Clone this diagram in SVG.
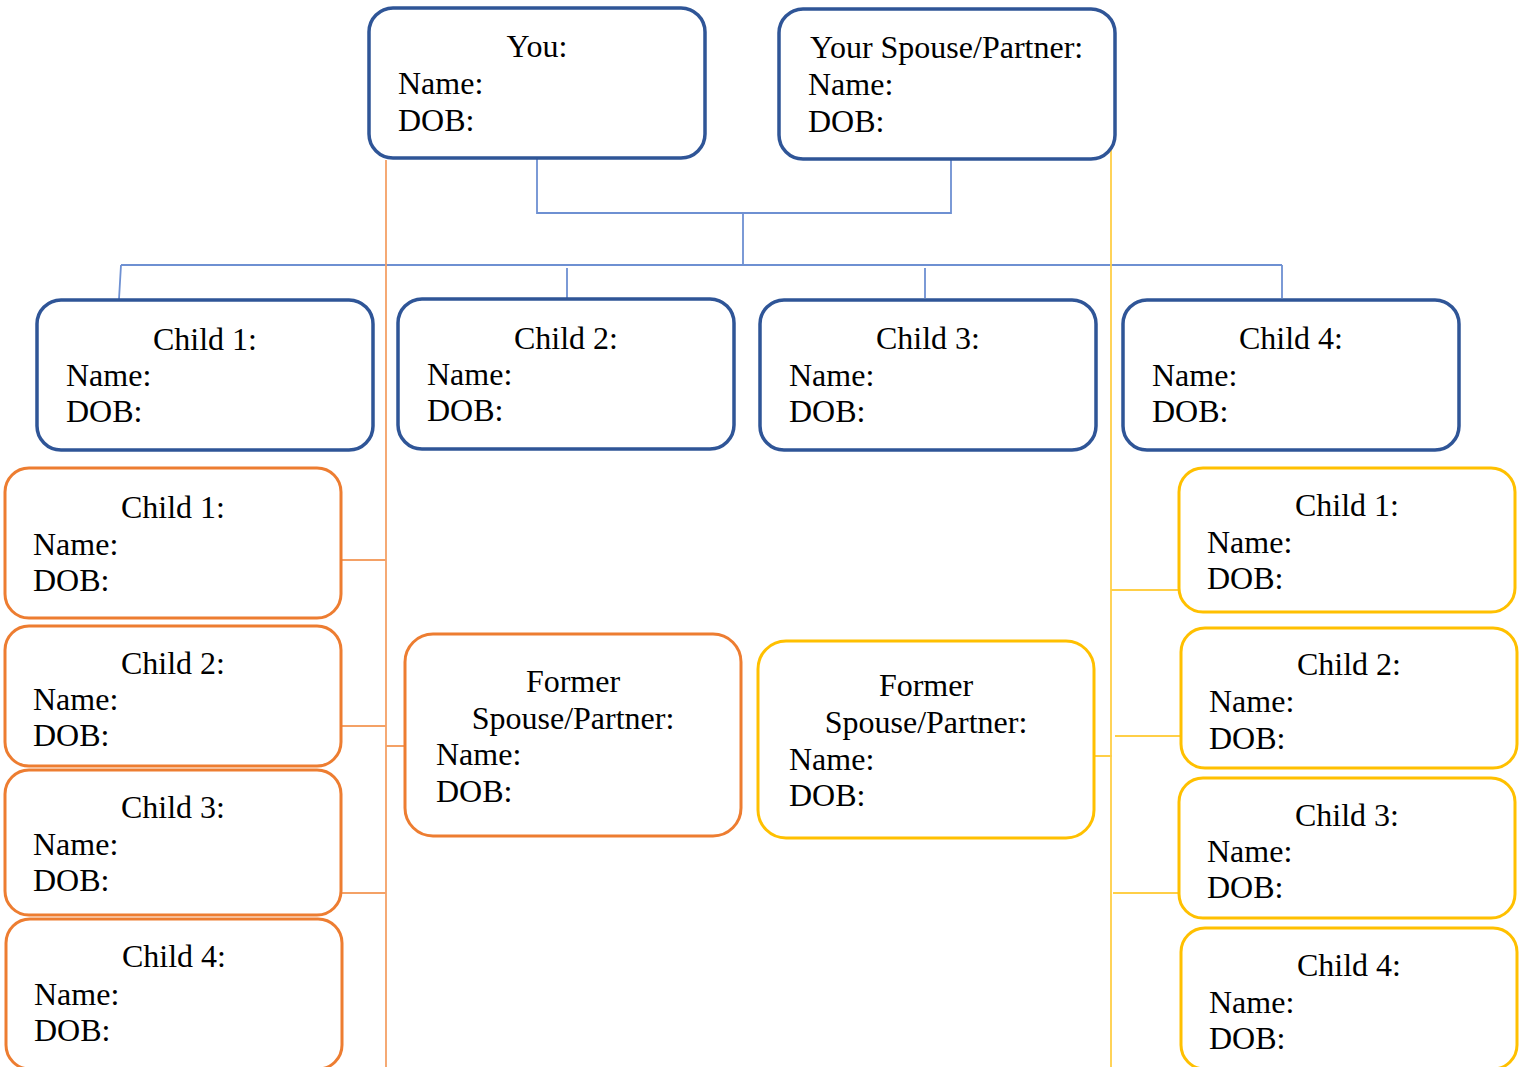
<svg xmlns="http://www.w3.org/2000/svg" width="1523" height="1067" viewBox="0 0 1523 1067">
<style>
.b{fill:#fff;stroke:#2F5597;stroke-width:3.5}
.o{fill:#fff;stroke:#ED7D31;stroke-width:3}
.y{fill:#fff;stroke:#FFC000;stroke-width:3}
text{font-family:"Liberation Serif","Times New Roman",serif;font-size:32px;fill:#000}
.c{text-anchor:middle}
.lb{stroke:#6E90D2;stroke-width:1.8;fill:none}
.lo{stroke:#F4A166;stroke-width:1.8;fill:none}
.ly{stroke:#FFCF47;stroke-width:1.8;fill:none}
</style>
<rect width="1523" height="1067" fill="#fff"/>
<g id="connectors">
<path class="lb" d="M537 158V213H951V159M743 213V265M121 265H1282M121 265L119 299M567 268V298M925 268V298M1282 265V298"/>
<path class="lo" d="M386 160V1067M341 560H386M341 726H386M341 893H386M386 746H405"/>
<path class="ly" d="M1111 145V1067M1111 590H1179M1115 736H1181M1113 893H1179M1094 756H1112"/>
</g>
<g id="you"><rect class="b" x="369" y="8" width="336" height="150" rx="24"/><text class="c" x="537" y="57">You:</text><text x="398" y="94">Name:</text><text x="398" y="131">DOB:</text></g>
<g id="spouse"><rect class="b" x="779" y="9" width="336" height="150" rx="24"/><text x="810" y="58">Your Spouse/Partner:</text><text x="808" y="95">Name:</text><text x="808" y="132">DOB:</text></g>
<g id="child1"><rect class="b" x="37" y="300" width="336" height="150" rx="24"/><text class="c" x="205" y="350">Child 1:</text><text x="66" y="386">Name:</text><text x="66" y="422">DOB:</text></g>
<g id="child2"><rect class="b" x="398" y="299" width="336" height="150" rx="24"/><text class="c" x="566" y="349">Child 2:</text><text x="427" y="385">Name:</text><text x="427" y="421">DOB:</text></g>
<g id="child3"><rect class="b" x="760" y="300" width="336" height="150" rx="24"/><text class="c" x="928" y="349">Child 3:</text><text x="789" y="386">Name:</text><text x="789" y="422">DOB:</text></g>
<g id="child4"><rect class="b" x="1123" y="300" width="336" height="150" rx="24"/><text class="c" x="1291" y="349">Child 4:</text><text x="1152" y="386">Name:</text><text x="1152" y="422">DOB:</text></g>
<g id="o-child1"><rect class="o" x="5" y="468" width="336" height="150" rx="24"/><text class="c" x="173" y="518">Child 1:</text><text x="33" y="555">Name:</text><text x="33" y="591">DOB:</text></g>
<g id="o-child2"><rect class="o" x="5" y="626" width="336" height="140" rx="24"/><text class="c" x="173" y="674">Child 2:</text><text x="33" y="710">Name:</text><text x="33" y="746">DOB:</text></g>
<g id="o-child3"><rect class="o" x="5" y="770" width="336" height="145" rx="24"/><text class="c" x="173" y="818">Child 3:</text><text x="33" y="855">Name:</text><text x="33" y="891">DOB:</text></g>
<g id="o-child4"><rect class="o" x="6" y="919" width="336" height="150" rx="24"/><text class="c" x="174" y="967">Child 4:</text><text x="34" y="1005">Name:</text><text x="34" y="1041">DOB:</text></g>
<g id="former-o"><rect class="o" x="405" y="634" width="336" height="202" rx="28"/><text class="c" x="573" y="692">Former</text><text class="c" x="573" y="729">Spouse/Partner:</text><text x="436" y="765">Name:</text><text x="436" y="802">DOB:</text></g>
<g id="former-y"><rect class="y" x="758" y="641" width="336" height="197" rx="28"/><text class="c" x="926" y="696">Former</text><text class="c" x="926" y="733">Spouse/Partner:</text><text x="789" y="770">Name:</text><text x="789" y="806">DOB:</text></g>
<g id="y-child1"><rect class="y" x="1179" y="468" width="336" height="144" rx="24"/><text class="c" x="1347" y="516">Child 1:</text><text x="1207" y="553">Name:</text><text x="1207" y="589">DOB:</text></g>
<g id="y-child2"><rect class="y" x="1181" y="628" width="336" height="140" rx="24"/><text class="c" x="1349" y="675">Child 2:</text><text x="1209" y="712">Name:</text><text x="1209" y="749">DOB:</text></g>
<g id="y-child3"><rect class="y" x="1179" y="778" width="336" height="140" rx="24"/><text class="c" x="1347" y="826">Child 3:</text><text x="1207" y="862">Name:</text><text x="1207" y="898">DOB:</text></g>
<g id="y-child4"><rect class="y" x="1181" y="928" width="336" height="141" rx="24"/><text class="c" x="1349" y="976">Child 4:</text><text x="1209" y="1013">Name:</text><text x="1209" y="1049">DOB:</text></g>
</svg>
